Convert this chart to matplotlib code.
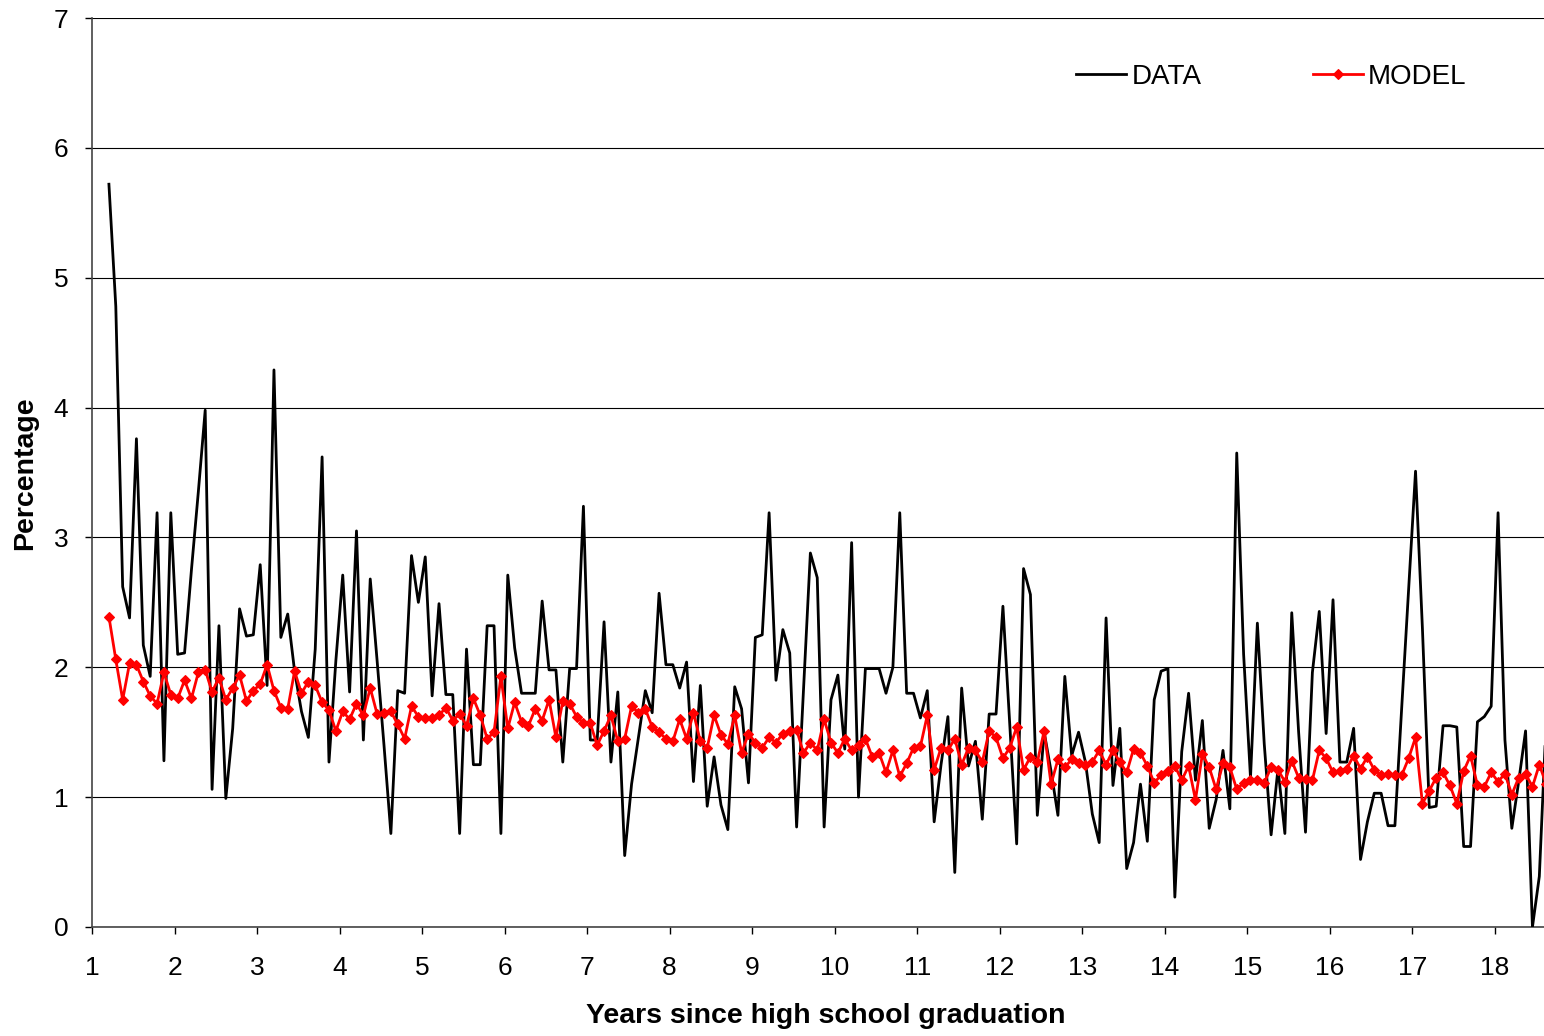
import numpy as np
import matplotlib
matplotlib.use("Agg")
from matplotlib import pyplot as plt

plt.rcParams['font.family'] = ['Liberation Sans', 'DejaVu Sans']

# monthly observations, first month sits a little past year 1
first_year = 1.205
step = 1.0 / 12

data = [
    5.72, 4.78, 2.62, 2.38, 3.76, 2.17, 1.93, 3.19, 1.28, 3.19,
    2.10, 2.11, 2.75, 3.35, 3.98, 1.06, 2.32, 0.99, 1.53, 2.45,
    2.24, 2.25, 2.79, 1.86, 4.29, 2.23, 2.41, 1.97, 1.66, 1.46,
    2.14, 3.62, 1.27, 2.05, 2.71, 1.81, 3.05, 1.44, 2.68, 2.05,
    1.40, 0.72, 1.82, 1.80, 2.86, 2.50, 2.85, 1.78, 2.49, 1.79,
    1.79, 0.72, 2.14, 1.25, 1.25, 2.32, 2.32, 0.72, 2.71, 2.15,
    1.80, 1.80, 1.80, 2.51, 1.98, 1.98, 1.27, 1.99, 1.99, 3.24,
    1.44, 1.44, 2.35, 1.27, 1.81, 0.55, 1.10, 1.46, 1.82, 1.65,
    2.57, 2.02, 2.02, 1.84, 2.04, 1.12, 1.86, 0.93, 1.31, 0.94,
    0.75, 1.85, 1.68, 1.11, 2.23, 2.25, 3.19, 1.90, 2.29, 2.11,
    0.77, 1.83, 2.88, 2.69, 0.77, 1.75, 1.94, 1.37, 2.96, 1.00,
    1.99, 1.99, 1.99, 1.80, 2.00, 3.19, 1.80, 1.80, 1.61, 1.82,
    0.81, 1.25, 1.62, 0.42, 1.84, 1.24, 1.43, 0.83, 1.64, 1.64,
    2.47, 1.55, 0.64, 2.76, 2.56, 0.86, 1.50, 1.20, 0.86, 1.93,
    1.32, 1.50, 1.27, 0.87, 0.65, 2.38, 1.09, 1.53, 0.45, 0.65,
    1.10, 0.66, 1.75, 1.97, 1.99, 0.23, 1.35, 1.80, 1.13, 1.59,
    0.76, 0.98, 1.36, 0.91, 3.65, 2.10, 1.15, 2.34, 1.41, 0.71,
    1.22, 0.72, 2.42, 1.50, 0.73, 1.96, 2.43, 1.49, 2.52, 1.27,
    1.27, 1.53, 0.52, 0.81, 1.03, 1.03, 0.78, 0.78, 1.70, 2.60,
    3.51, 2.30, 0.92, 0.93, 1.55, 1.55, 1.54, 0.62, 0.62, 1.58,
    1.62, 1.70, 3.19, 1.44, 0.76, 1.12, 1.51, 0.00, 0.39, 1.60,
]

model = [
    2.39, 2.06, 1.75, 2.03, 2.02, 1.89, 1.78, 1.72, 1.96, 1.79,
    1.76, 1.90, 1.76, 1.96, 1.98, 1.81, 1.92, 1.75, 1.84, 1.94,
    1.74, 1.82, 1.87, 2.02, 1.82, 1.69, 1.68, 1.97, 1.80, 1.89,
    1.86, 1.73, 1.67, 1.51, 1.66, 1.60, 1.72, 1.63, 1.84, 1.64,
    1.65, 1.66, 1.56, 1.45, 1.70, 1.62, 1.61, 1.61, 1.63, 1.69,
    1.59, 1.64, 1.55, 1.76, 1.63, 1.45, 1.50, 1.93, 1.53, 1.73,
    1.58, 1.55, 1.68, 1.59, 1.75, 1.46, 1.74, 1.72, 1.62, 1.57,
    1.57, 1.40, 1.51, 1.63, 1.43, 1.45, 1.70, 1.65, 1.68, 1.54,
    1.50, 1.45, 1.43, 1.60, 1.45, 1.65, 1.43, 1.38, 1.63, 1.48,
    1.41, 1.63, 1.34, 1.49, 1.42, 1.38, 1.46, 1.42, 1.49, 1.51,
    1.52, 1.34, 1.42, 1.36, 1.60, 1.42, 1.34, 1.45, 1.36, 1.40,
    1.45, 1.31, 1.34, 1.19, 1.36, 1.16, 1.26, 1.38, 1.39, 1.63,
    1.21, 1.38, 1.36, 1.45, 1.25, 1.38, 1.36, 1.27, 1.51, 1.46,
    1.30, 1.38, 1.54, 1.21, 1.31, 1.27, 1.51, 1.10, 1.29, 1.23,
    1.29, 1.26, 1.25, 1.27, 1.36, 1.25, 1.36, 1.27, 1.19, 1.37,
    1.34, 1.24, 1.11, 1.17, 1.20, 1.24, 1.13, 1.24, 0.98, 1.33,
    1.23, 1.06, 1.26, 1.23, 1.06, 1.11, 1.13, 1.13, 1.11, 1.23,
    1.21, 1.12, 1.28, 1.15, 1.14, 1.13, 1.36, 1.30, 1.19, 1.20,
    1.22, 1.32, 1.22, 1.31, 1.21, 1.17, 1.18, 1.17, 1.17, 1.30,
    1.46, 0.95, 1.05, 1.15, 1.19, 1.09, 0.95, 1.20, 1.32, 1.09,
    1.08, 1.19, 1.12, 1.18, 1.02, 1.15, 1.18, 1.08, 1.25, 1.10,
]

years = first_year + step * np.arange(len(data))
year_ticks = list(range(1, 19))
pct_ticks = list(range(0, 8))

fig = plt.figure(figsize=(15.44, 10.36), dpi=100)
ax = fig.add_axes([92 / 1544, 1 - 927 / 1036, 1452 / 1544, 909 / 1036])

ax.plot(years, data, color='black', lw=2.0, label='DATA', zorder=3)
ax.plot(years, model, color='#ff0000', lw=2.0, marker='D', markersize=5,
        markeredgewidth=0.8, label='MODEL', zorder=4)

ax.set_xlim(1, 18.595)
ax.set_ylim(0, 7)
ax.set_xticks(year_ticks)
ax.set_yticks(pct_ticks)
ax.tick_params(axis='x', direction='out', length=5, width=1, pad=16,
               labelsize=19)
ax.tick_params(axis='y', direction='out', length=5, width=1, pad=12,
               labelsize=19)

ax.yaxis.grid(True, color='black', lw=0.8)
ax.set_axisbelow(True)
for side in ('top', 'right'):
    ax.spines[side].set_visible(False)
for side in ('left', 'bottom'):
    ax.spines[side].set_linewidth(1.2)
    ax.spines[side].set_color('#444444')

fig.text(826 / 1544, 1 - 1016 / 1036, 'Years since high school graduation',
         ha='center', va='center', fontsize=20.5, fontweight='bold')
fig.text(25 / 1544, 1 - 473 / 1036, 'Percentage', rotation=90,
         ha='center', va='center', fontsize=20.5, fontweight='bold')

ax.legend(loc='center left', bbox_to_anchor=(0.678, 0.935), ncol=2,
          frameon=False, fontsize=20, handlelength=1.8, handletextpad=0.18,
          columnspacing=4.0, borderpad=0, borderaxespad=0)

fig.savefig('out.png', dpi=100)
